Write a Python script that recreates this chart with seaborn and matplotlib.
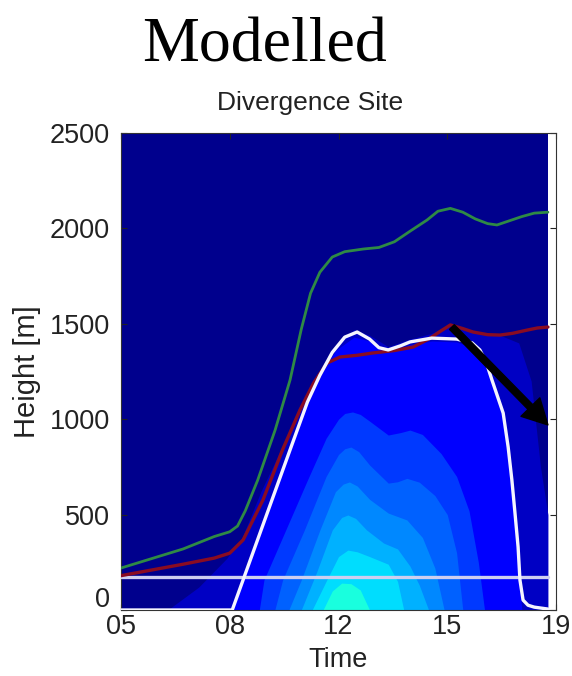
import numpy as np
import pandas as pd
import matplotlib
matplotlib.use("Agg")
import matplotlib.pyplot as plt
import matplotlib.transforms as mtransforms
import seaborn as sns

# ---------------- data ----------------
x_tick_pos = [5, 8.5, 12, 15.5, 19]
x_tick_labels = ['05', '08', '12', '15', '19']
y_ticks = [0, 500, 1000, 1500, 2000, 2500]
t_start, t_end = 5.0, 18.74

# filled contour bands: upper boundary of each band (time [h], height [m])
b1_t = [6.5, 7.5, 8.4, 8.9, 9.5, 10.2, 10.8, 11.3, 11.8, 12.5, 13.0, 13.6, 14.3, 15.0, 15.6, 16.3, 17.2, 17.8, 18.2, 18.5, 18.74]
b1_h = [0, 120, 270, 380, 620, 860, 1060, 1230, 1360, 1470, 1440, 1380, 1420, 1450, 1495, 1460, 1440, 1400, 1200, 750, 500]
b2_t = [8.58, 9.5, 10.5, 11.0, 11.5, 11.9, 12.5, 13.0, 13.6, 14.3, 15.0, 15.8, 16.3, 16.7, 17.0, 17.3, 17.5, 17.7, 17.82, 17.9]
b2_h = [0, 415, 866, 1085, 1250, 1360, 1430, 1410, 1350, 1390, 1410, 1405, 1375, 1310, 1170, 1010, 780, 470, 150, 0]
L1_t = [9.45, 9.6, 10.3, 11.0, 11.6, 12.0, 12.2, 12.45, 12.7, 13.0, 13.6, 14.0, 14.3, 14.7, 15.3, 15.8, 16.2, 16.5, 16.7]
L1_h = [0, 157, 419, 681, 900, 1000, 1030, 1038, 1025, 990, 917, 930, 943, 920, 820, 700, 520, 250, 0]
L2_t = [9.95, 10.2, 10.9, 11.6, 12.0, 12.2, 12.4, 12.65, 13.0, 13.6, 13.9, 14.2, 14.6, 15.1, 15.5, 15.8, 16.0]
L2_h = [0, 157, 419, 700, 815, 845, 854, 830, 760, 665, 672, 690, 670, 600, 500, 300, 0]
L3_t = [10.4, 10.8, 11.4, 11.9, 12.15, 12.35, 12.6, 13.0, 13.6, 14.2, 14.7, 15.1, 15.4]
L3_h = [0, 157, 419, 620, 660, 671, 650, 580, 508, 472, 380, 220, 0]
L4_t = [10.8, 11.3, 11.8, 12.1, 12.3, 12.55, 12.9, 13.45, 13.9, 14.3, 14.6, 14.9]
L4_h = [0, 200, 420, 485, 498, 480, 420, 351, 320, 230, 130, 0]
L5_t = [11.15, 11.6, 12.0, 12.3, 12.6, 13.0, 13.6, 13.9, 14.1]
L5_h = [0, 150, 280, 314, 305, 280, 240, 150, 0]
L6_t = [11.5, 11.8, 12.1, 12.4, 12.7, 13.0]
L6_h = [0, 100, 141, 138, 105, 0]
band_jet = [0.06, 0.115, 0.18, 0.22, 0.26, 0.30, 0.34, 0.38]
background_jet = 0.015

# lines
green_t = [5.0, 6.0, 7.0, 8.0, 8.5, 8.75, 9.0, 9.4, 9.96, 10.44, 10.8, 11.1, 11.4, 11.8, 12.2, 12.8, 13.3, 13.8, 14.3, 14.85, 15.2, 15.6, 16.0, 16.4, 16.8, 17.1, 17.5, 17.9, 18.3, 18.74]
green_h = [220, 270, 320, 385, 410, 440, 520, 681, 943, 1205, 1470, 1660, 1770, 1850, 1878, 1892, 1900, 1930, 1985, 2044, 2090, 2105, 2085, 2050, 2025, 2018, 2040, 2062, 2080, 2085]
red_t = [5.0, 6.0, 7.0, 8.0, 8.5, 8.93, 9.57, 10.2, 10.76, 11.2, 11.63, 12.05, 12.6, 13.1, 13.8, 14.4, 14.9, 15.27, 15.6, 16.0, 16.33, 16.8, 17.2, 17.6, 18.07, 18.4, 18.74]
red_h = [180, 210, 240, 272, 298, 367, 577, 840, 1048, 1190, 1294, 1326, 1335, 1347, 1360, 1378, 1420, 1460, 1494, 1475, 1457, 1443, 1441, 1450, 1467, 1478, 1483]
white_t = [5.0, 8.58, 9.5, 10.5, 11.0, 11.4, 11.8, 12.2, 12.6, 13.0, 13.3, 13.6, 14.0, 14.3, 15.0, 15.8, 16.3, 16.55, 16.75, 16.94, 17.3, 17.46, 17.58, 17.68, 17.78, 17.84, 17.94, 18.1, 18.3, 18.74]
white_h = [0, 0, 415, 866, 1090, 1230, 1350, 1430, 1457, 1420, 1375, 1363, 1385, 1405, 1425, 1420, 1400, 1363, 1300, 1205, 1032, 854, 681, 508, 330, 157, 52, 25, 15, 5]
ref_level = 173
arrow_tail = (15.65, 1483)
arrow_head = (18.74, 970)

# ---------------- figure ----------------
sns.set_style("ticks")
plt.rcParams['font.family'] = ['Liberation Sans', 'DejaVu Sans']
plt.rcParams['xtick.direction'] = 'in'
plt.rcParams['ytick.direction'] = 'in'

W, H = 572, 676
fig = plt.figure(figsize=(W / 100, H / 100), dpi=100)
fig.patch.set_facecolor('white')
ax = fig.add_axes([121 / W, (H - 610) / H, (556 - 121) / W, (610 - 133) / H])
ax.set_facecolor('white')

jet = plt.cm.jet
ax.axvspan(t_start, t_end, color=jet(background_jet), zorder=0.5, lw=0)
bands = [(b1_t, b1_h), (b2_t, b2_h), (L1_t, L1_h), (L2_t, L2_h),
         (L3_t, L3_h), (L4_t, L4_h), (L5_t, L5_h), (L6_t, L6_h)]
for (bt, bh), c in zip(bands, band_jet):
    ax.fill_between(bt, 0, bh, color=jet(c), lw=0, zorder=1)

line_df = pd.concat([
    pd.DataFrame({'t': green_t, 'h': green_h, 's': 'green'}),
    pd.DataFrame({'t': red_t, 'h': red_h, 's': 'red'}),
    pd.DataFrame({'t': white_t, 'h': white_h, 's': 'white'}),
    pd.DataFrame({'t': [t_start, t_end], 'h': [ref_level, ref_level], 's': 'ref'}),
])
palette = {'green': '#2f8a45', 'red': '#8a0c22', 'white': '#f4f4ff', 'ref': '#cfcff0'}
widths = {'green': 2.0, 'red': 2.4, 'white': 2.4, 'ref': 2.4}
for s in ['ref', 'red', 'green', 'white']:
    d = line_df[line_df['s'] == s]
    sns.lineplot(data=d, x='t', y='h', color=palette[s], linewidth=widths[s],
                 estimator=None, sort=False, ax=ax, zorder=3, legend=False)

ax.annotate('', xy=arrow_head, xytext=arrow_tail,
            arrowprops=dict(facecolor='black', edgecolor='black', width=4.8,
                            headwidth=19, headlength=18, shrink=0),
            zorder=5)

ax.set_xlim(5, 19)
ax.set_ylim(0, 2500)
ax.set_xticks(x_tick_pos)
ax.set_xticklabels(x_tick_labels)
ax.set_yticks(y_ticks)
ax.set_yticklabels([str(v) for v in y_ticks])
ax.tick_params(axis='both', labelsize=19.5, colors='#222222', length=4, width=0.8,
               top=True, right=True)
ax.tick_params(axis='y', pad=8)
ax.tick_params(axis='x', pad=3)
# the "0" label sits just above the axis bottom, as in the reference
ax.get_yticklabels()[0].set_verticalalignment('bottom')
ax.get_yticklabels()[0].set_transform(
    ax.get_yticklabels()[0].get_transform() + mtransforms.ScaledTranslation(0, -2 / 72, fig.dpi_scale_trans))
ax.set_xlabel('Time', fontsize=19.5, color='#222222', labelpad=5)
ax.set_ylabel('Height [m]', fontsize=21, color='#222222', labelpad=6)
for sp in ax.spines.values():
    sp.set_visible(True)
    sp.set_color('#333333')
    sp.set_linewidth(0.8)

fig.text(265 / W, 1 - 62 / H, 'Modelled', family=['Liberation Serif', 'DejaVu Serif'],
         fontsize=46, ha='center', va='baseline', color='black')
fig.text(310 / W, 1 - 110 / H, 'Divergence Site', fontsize=19, ha='center',
         va='baseline', color='#222222')

fig.savefig('out.png', dpi=100, facecolor='white')
